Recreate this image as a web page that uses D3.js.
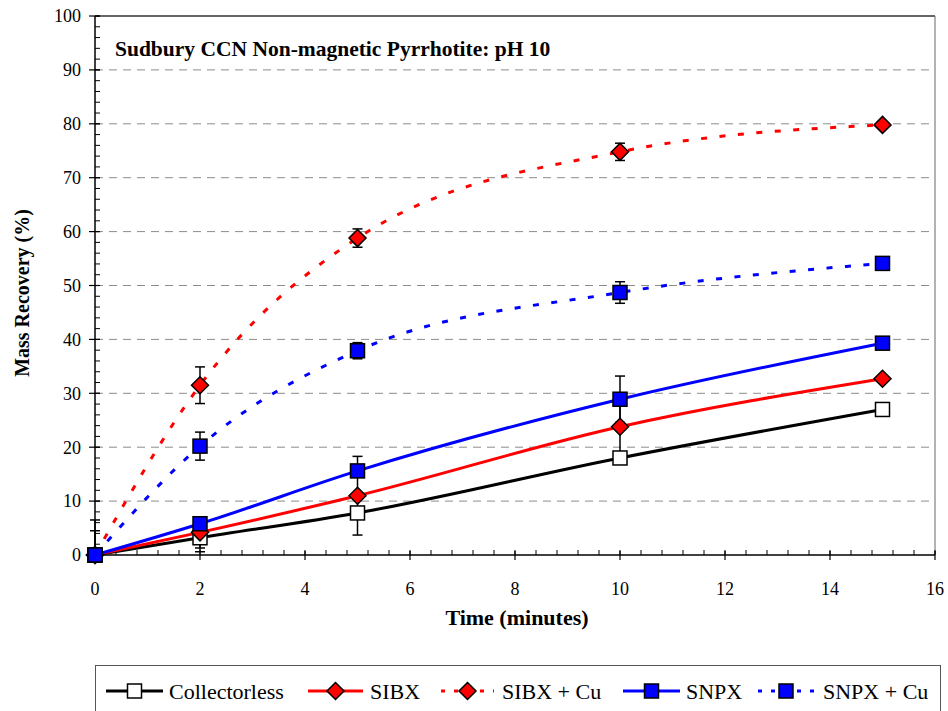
<!DOCTYPE html>
<html><head><meta charset="utf-8">
<script src="https://cdn.jsdelivr.net/npm/d3@7"></script>
<style>body{margin:0;background:#fff}svg{display:block}</style>
</head><body>
<script>
const times = [0, 2, 5, 10, 15];
const collectorless = [0, 3.2, 7.8, 18.0, 27.0];
const collectorlessErr = [6.5, 2.6, 1.0, 1.0, 0.5];
const sibx = [0, 4.2, 11.0, 23.8, 32.7];
const sibxErr = [4.5, 2.9, 7.3, 5.0, 0.5];
const sibxCu = [0, 31.5, 58.8, 74.8, 79.8];
const sibxCuErr = [0, 3.4, 1.7, 1.6, 0.5];
const snpx = [0, 5.8, 15.6, 28.9, 39.3];
const snpxErr = [0, 1.0, 1.0, 4.3, 0.5];
const snpxCu = [0, 20.2, 37.9, 48.7, 54.1];
const snpxCuErr = [0, 2.6, 1.5, 2.0, 0.5];
const seriesNames = ["Collectorless", "SIBX", "SIBX + Cu", "SNPX", "SNPX + Cu"];
const xTicks = [0, 2, 4, 6, 8, 10, 12, 14, 16];
const yTicks = [0, 10, 20, 30, 40, 50, 60, 70, 80, 90, 100];
const chartTitle = "Sudbury CCN Non-magnetic Pyrrhotite: pH 10";
const xTitle = "Time (minutes)";
const yTitle = "Mass Recovery (%)";

const styles = [
  {values: collectorless, err: collectorlessErr, color: "#000000", fill: "#ffffff", marker: "square", dash: null},
  {values: sibx, err: sibxErr, color: "#ff0000", fill: "#ff0000", marker: "diamond", dash: null},
  {values: sibxCu, err: sibxCuErr, color: "#ff0000", fill: "#ff0000", marker: "diamond", dash: "6,12.5"},
  {values: snpx, err: snpxErr, color: "#0000ff", fill: "#0000ff", marker: "square", dash: null},
  {values: snpxCu, err: snpxCuErr, color: "#0000ff", fill: "#0000ff", marker: "square", dash: "6,12.5"}
];

const FONT = "'Liberation Serif', 'DejaVu Serif', 'Times New Roman', Times, serif";
const W = 948, H = 711;
const L = 95, R = 935, T = 16, B = 555;
const svg = d3.select("body").append("svg").attr("width", W).attr("height", H).attr("font-family", FONT);
const x = d3.scaleLinear().domain([0, 16]).range([L, R]);
const y = d3.scaleLinear().domain([0, 100]).range([B, T]);

svg.append("defs").append("clipPath").attr("id", "clip")
  .append("rect").attr("x", L - 10).attr("y", T).attr("width", R - L + 20).attr("height", B - T);

// grid
svg.append("g").selectAll("line").data(yTicks.filter(v => v > 0 && v < 100)).join("line")
  .attr("x1", L).attr("x2", R).attr("y1", d => y(d)).attr("y2", d => y(d))
  .attr("stroke", "#8c8c8c").attr("stroke-width", 1).attr("stroke-dasharray", "8,6");

// plot border top/right
svg.append("line").attr("x1", L).attr("x2", R).attr("y1", T).attr("y2", T).attr("stroke", "#333").attr("stroke-width", 1.3);
svg.append("line").attr("x1", R).attr("x2", R).attr("y1", T).attr("y2", B).attr("stroke", "#666").attr("stroke-width", 1);

// axes
const yMinor = d3.range(0, 100.01, 2);
const xMinor = d3.range(0, 16.01, 0.4);
const gy = svg.append("g");
gy.selectAll("line.mi").data(yMinor).join("line").attr("class", "mi")
  .attr("x1", L).attr("x2", L + 5).attr("y1", d => y(d)).attr("y2", d => y(d)).attr("stroke", "#000").attr("stroke-width", 1);
gy.selectAll("line.ma").data(yTicks).join("line").attr("class", "ma")
  .attr("x1", L - 6).attr("x2", L + 5).attr("y1", d => y(d)).attr("y2", d => y(d)).attr("stroke", "#000").attr("stroke-width", 1.2);
gy.selectAll("text").data(yTicks).join("text")
  .attr("x", L - 14).attr("y", d => y(d)).attr("dy", "0.35em").attr("text-anchor", "end")
  .attr("font-family", FONT).attr("font-size", 18).text(d => d);
gy.append("line").attr("x1", L).attr("x2", L).attr("y1", T).attr("y2", B).attr("stroke", "#000").attr("stroke-width", 1.5);

const gx = svg.append("g");
gx.selectAll("line.mi").data(xMinor).join("line").attr("class", "mi")
  .attr("x1", d => x(d)).attr("x2", d => x(d)).attr("y1", B).attr("y2", B - 5).attr("stroke", "#000").attr("stroke-width", 1);
gx.selectAll("line.ma").data(xTicks).join("line").attr("class", "ma")
  .attr("x1", d => x(d)).attr("x2", d => x(d)).attr("y1", B + 5).attr("y2", B - 4).attr("stroke", "#000").attr("stroke-width", 1.2);
gx.selectAll("text").data(xTicks).join("text")
  .attr("x", d => x(d)).attr("y", 595).attr("text-anchor", "middle")
  .attr("font-family", FONT).attr("font-size", 18).text(d => d);
gx.append("line").attr("x1", L).attr("x2", R).attr("y1", B).attr("y2", B).attr("stroke", "#000").attr("stroke-width", 1.5);

// titles
svg.append("text").attr("x", 115).attr("y", 56).attr("font-family", FONT).attr("font-size", 21.5).attr("font-weight", "bold").text(chartTitle);
svg.append("text").attr("x", 517).attr("y", 625).attr("text-anchor", "middle").attr("font-family", FONT).attr("font-size", 22).attr("font-weight", "bold").text(xTitle);
svg.append("text").attr("transform", "translate(29,293) rotate(-90)").attr("text-anchor", "middle").attr("font-family", FONT).attr("font-size", 20).attr("font-weight", "bold").text(yTitle);

// lines
const line = d3.line().x((d, i) => x(times[i])).y(d => y(d)).curve(d3.curveMonotoneX);
const plot = svg.append("g").attr("clip-path", "url(#clip)");
styles.forEach(s => {
  plot.append("path").attr("d", line(s.values)).attr("fill", "none").attr("stroke", s.color)
    .attr("stroke-width", 3).attr("stroke-dasharray", s.dash);
});

// error bars
styles.forEach(s => {
  const g = plot.append("g");
  s.values.forEach((v, i) => {
    const e = s.err[i];
    if (!e) return;
    const cx = x(times[i]);
    g.append("line").attr("x1", cx).attr("x2", cx).attr("y1", y(v - e)).attr("y2", y(v + e)).attr("stroke", "#000").attr("stroke-width", 1.5);
    [v - e, v + e].forEach(t => g.append("line").attr("x1", cx - 5).attr("x2", cx + 5).attr("y1", y(t)).attr("y2", y(t)).attr("stroke", "#000").attr("stroke-width", 1.5));
  });
});

function drawMarker(g, type, cx, cy, fill) {
  if (type === "square") {
    g.append("rect").attr("x", cx - 7).attr("y", cy - 7).attr("width", 14).attr("height", 14)
      .attr("fill", fill).attr("stroke", "#000").attr("stroke-width", 1.5);
  } else {
    const r = 8.5;
    g.append("path").attr("d", `M${cx},${cy - r}L${cx + r},${cy}L${cx},${cy + r}L${cx - r},${cy}Z`)
      .attr("fill", fill).attr("stroke", "#000").attr("stroke-width", 1.5);
  }
}
const mg = svg.append("g");
styles.forEach(s => {
  s.values.forEach((v, i) => drawMarker(mg, s.marker, x(times[i]), y(v), s.fill));
});

// legend
svg.append("rect").attr("x", 95.5).attr("y", 665.5).attr("width", 845).attr("height", 60)
  .attr("fill", "#fff").attr("stroke", "#555").attr("stroke-width", 1);
const legX = [[106, 163, 169], [308, 363, 370], [441, 494, 502], [623, 680, 686], [758, 814, 823]];
const ly = 691;
styles.forEach((s, i) => {
  const [a, b, t] = legX[i];
  const lg = svg.append("g");
  lg.append("line").attr("x1", a).attr("x2", b).attr("y1", ly).attr("y2", ly).attr("stroke", s.color)
    .attr("stroke-width", 3).attr("stroke-dasharray", s.dash ? "4,9" : null);
  drawMarker(lg, s.marker, (a + b) / 2, ly, s.fill);
  lg.append("text").attr("x", t).attr("y", ly).attr("dy", "0.35em").attr("font-family", FONT).attr("font-size", 22).text(seriesNames[i]);
});
</script>
</body></html>
